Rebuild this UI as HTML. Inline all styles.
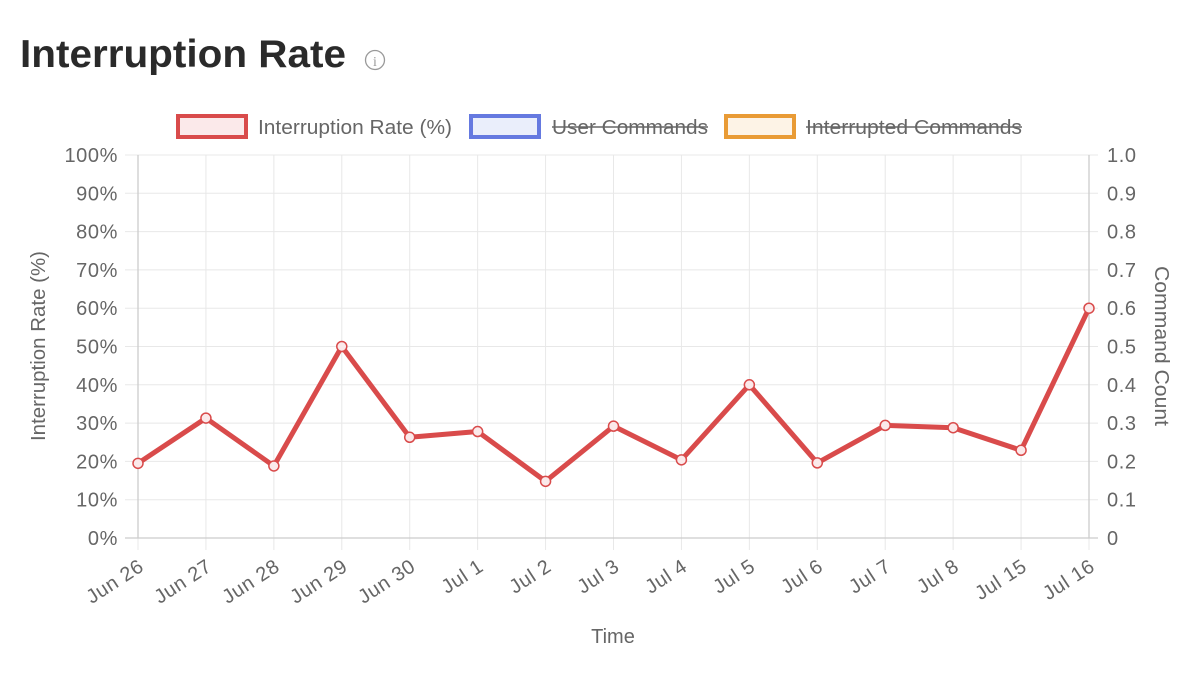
<!DOCTYPE html>
<html><head><meta charset="utf-8"><style>
html,body{margin:0;padding:0;background:#fff;width:1200px;height:690px;overflow:hidden}
svg{display:block;font-family:"Liberation Sans",sans-serif}
</style></head><body>
<svg width="1200" height="690" viewBox="0 0 1200 690">
<text x="20" y="67" font-size="39" font-weight="bold" fill="#2a2a2a" textLength="326" lengthAdjust="spacingAndGlyphs">Interruption Rate</text>
<circle cx="375" cy="60" r="9.5" fill="none" stroke="#999" stroke-width="1.3"/>
<text x="375" y="66" font-size="14" fill="#999" text-anchor="middle" font-family="Liberation Serif,serif">i</text>
<rect x="178" y="116" width="68" height="21" fill="#fbe9ea" stroke="#d94b4b" stroke-width="4"/>
<text x="258" y="134" font-size="20" fill="#666" textLength="194" lengthAdjust="spacingAndGlyphs">Interruption Rate (%)</text>
<rect x="471" y="116" width="68" height="21" fill="#eaeefb" stroke="#6579e0" stroke-width="4"/>
<text x="552" y="134" font-size="20" fill="#666" textLength="156" lengthAdjust="spacingAndGlyphs">User Commands</text>
<line x1="552" y1="127" x2="708" y2="127" stroke="#666" stroke-width="1.5"/>
<rect x="726" y="116" width="68" height="21" fill="#fdf3e6" stroke="#e99b35" stroke-width="4"/>
<text x="806" y="134" font-size="20" fill="#666" textLength="216" lengthAdjust="spacingAndGlyphs">Interrupted Commands</text>
<line x1="806" y1="127" x2="1022" y2="127" stroke="#666" stroke-width="1.5"/>
<g id="grid" stroke="#e8e8e8" stroke-width="1"></g>
<g id="lbl" font-size="20" fill="#666" letter-spacing="0.6"></g>
<line x1="138" y1="155" x2="138" y2="538" stroke="#ccc" stroke-width="1.3"/>
<line x1="1089" y1="155" x2="1089" y2="538" stroke="#ccc" stroke-width="1.3"/>
<line x1="125" y1="538" x2="1098" y2="538" stroke="#ccc" stroke-width="1.3"/>
<text transform="translate(45,346) rotate(-90)" font-size="20" fill="#666" text-anchor="middle" textLength="190" lengthAdjust="spacingAndGlyphs">Interruption Rate (%)</text>
<text transform="translate(1155,346) rotate(90)" font-size="20" fill="#666" text-anchor="middle" textLength="160" lengthAdjust="spacingAndGlyphs">Command Count</text>
<text x="613" y="643" font-size="20" fill="#666" text-anchor="middle">Time</text>
<polyline id="ln" fill="none" stroke="#d94b4b" stroke-width="5" stroke-linejoin="round"/>
<g id="pts"></g>
</svg>
<script>
var ns="http://www.w3.org/2000/svg";
function el(p,t,a,txt){var e=document.createElementNS(ns,t);for(var k in a)e.setAttribute(k,a[k]);if(txt!=null)e.textContent=txt;p.appendChild(e);return e;}
var g=document.getElementById('grid'),L=document.getElementById('lbl');
var X0=138,X1=1089,Y0=538,Y1=155;
var labels=["Jun 26","Jun 27","Jun 28","Jun 29","Jun 30","Jul 1","Jul 2","Jul 3","Jul 4","Jul 5","Jul 6","Jul 7","Jul 8","Jul 15","Jul 16"];
var vals=[19.5,31.3,18.8,50,26.3,27.8,14.8,29.2,20.4,40,19.6,29.4,28.8,22.9,60];
var n=labels.length,step=(X1-X0)/(n-1);
for(var i=0;i<=10;i++){var y=Y0-(Y0-Y1)*i/10;
 if(i>0)el(g,'line',{x1:125,y1:y,x2:1098,y2:y});
 el(L,'text',{x:118,y:y+7,'text-anchor':'end'},(i*10)+'%');
 el(L,'text',{x:1107,y:y+7},i==10?'1.0':(i==0?'0':'0.'+i));
}
var pts=[];
for(var i=0;i<n;i++){var x=X0+step*i;
 if(i>0&&i<n-1)el(g,'line',{x1:x,y1:Y1,x2:x,y2:550});
 else el(g,'line',{x1:x,y1:538,x2:x,y2:550});
 el(L,'text',{transform:'translate('+(x-1)+',557) rotate(-33)','text-anchor':'end',dy:'15'},labels[i]);
 pts.push([x,Y0-(Y0-Y1)*vals[i]/100]);
}
document.getElementById('ln').setAttribute('points',pts.map(function(p){return p.join(',')}).join(' '));
var P=document.getElementById('pts');
pts.forEach(function(p){el(P,'circle',{cx:p[0],cy:p[1],r:5,fill:'#fbe9ea',stroke:'#d94b4b','stroke-width':1.5});});
</script>
</body></html>
